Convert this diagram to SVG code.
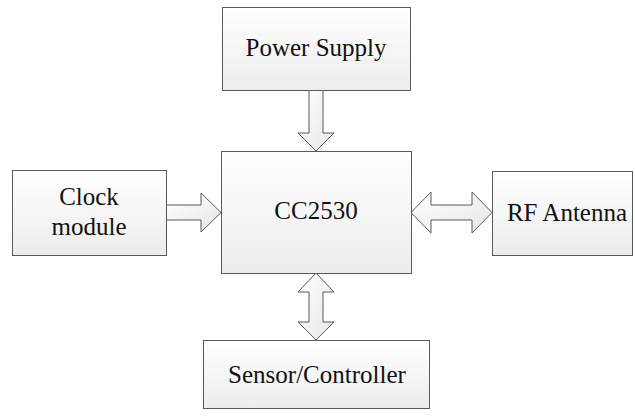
<svg xmlns="http://www.w3.org/2000/svg" width="635" height="419" viewBox="0 0 635 419">
<defs>
<linearGradient id="gBox" x1="0" y1="0" x2="0" y2="1">
<stop offset="0" stop-color="#ffffff"/>
<stop offset="1" stop-color="#ececec"/>
</linearGradient>
<linearGradient id="gArr" x1="0" y1="0" x2="1" y2="1">
<stop offset="0" stop-color="#ffffff"/>
<stop offset="1" stop-color="#e6e6e6"/>
</linearGradient>
</defs>
<style>
.box{fill:url(#gBox);stroke:#595959;stroke-width:1}
.arr{fill:url(#gArr);stroke:#595959;stroke-width:1;stroke-linejoin:miter}
text{font-family:'Liberation Serif','DejaVu Serif',serif;font-size:25px;fill:#111;text-anchor:middle}
</style>
<rect width="635" height="419" fill="#ffffff"/>
<g id="connectors">
<polygon class="arr" points="309,90 323,90 323,133 334,133 316,151 298,133 309,133"/>
<polygon class="arr" points="166,205 201,205 201,193 221,212.5 201,232 201,220 166,220"/>
<polygon class="arr" points="411,212.5 431,192 431,205 472,205 472,192 492,212.5 472,233 472,220 431,220 431,233"/>
<polygon class="arr" points="316,273 334,292 323,292 323,322 334,322 316,340 298,322 309,322 309,292 298,292"/>
</g>
<g id="power">
<rect class="box" x="222.5" y="7.5" width="188" height="83"/>
<text x="316" y="56" font-family="Liberation Serif, serif">Power Supply</text>
</g>
<g id="cc2530">
<rect class="box" x="221.5" y="151.5" width="190" height="122"/>
<text x="316" y="219" font-family="Liberation Serif, serif">CC2530</text>
</g>
<g id="clock">
<rect class="box" x="12.5" y="170.5" width="154" height="85"/>
<text x="89" y="205" font-family="Liberation Serif, serif">Clock</text>
<text x="89" y="235" font-family="Liberation Serif, serif">module</text>
</g>
<g id="rf">
<rect class="box" x="492.5" y="171.5" width="140" height="84"/>
<text x="567" y="221" font-family="Liberation Serif, serif">RF Antenna</text>
</g>
<g id="sensor">
<rect class="box" x="203.5" y="340.5" width="226" height="68"/>
<text x="317" y="383" font-family="Liberation Serif, serif">Sensor/Controller</text>
</g>
</svg>
